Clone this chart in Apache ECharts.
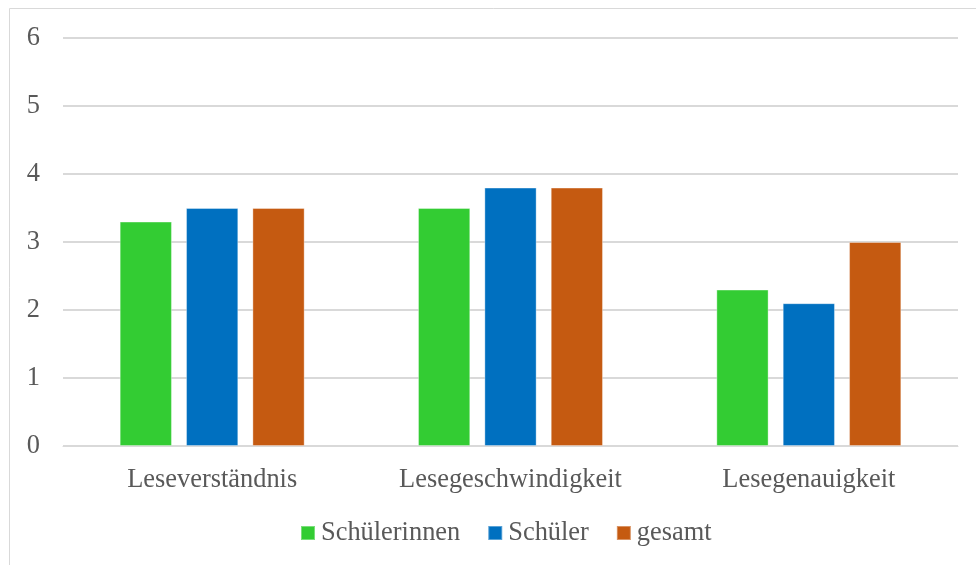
<!DOCTYPE html>
<html>
<head>
<meta charset="utf-8">
<script src="https://cdn.jsdelivr.net/npm/echarts@6/dist/echarts.min.js"></script>
<style>
  html, body { margin: 0; padding: 0; background: #fff; }
  #chart { width: 976px; height: 565px; }
</style>
</head>
<body>
<div id="chart"></div>
<script>
// Reading results by skill area
const categories = ['Leseverständnis', 'Lesegeschwindigkeit', 'Lesegenauigkeit'];
const schuelerinnen = [3.3, 3.5, 2.3];
const schueler = [3.5, 3.8, 2.1];
const gesamt = [3.5, 3.8, 3.0];
const seriesNames = ['Schülerinnen', 'Schüler', 'gesamt'];
const colors = ['#33cc33', '#0070c0', '#c55a11'];

const font = '"Liberation Serif", "Times New Roman", serif';
const textColor = '#595959';

const chart = echarts.init(document.getElementById('chart'), null, { renderer: 'canvas' });

const barStyle = (c) => ({
  color: c,
  borderColor: 'rgba(255,255,255,0.35)',
  borderWidth: 1
});

chart.setOption({
  animation: false,
  backgroundColor: '#fff',
  color: colors,
  graphic: [{
    type: 'rect',
    shape: { x: 9.5, y: 8.5, width: 990, height: 600 },
    style: { fill: 'none', stroke: '#d9d9d9', lineWidth: 1 },
    silent: true
  }],
  grid: { left: 63, right: 18, top: 38, bottom: 119, containLabel: false },
  legend: {
    data: seriesNames,
    bottom: 14,
    left: 295,
    itemWidth: 14,
    itemHeight: 14,
    itemGap: 27,
    icon: 'rect',
    textStyle: { fontFamily: font, fontSize: 26.4, color: textColor, padding: [0, 0, 0, 1] }
  },
  xAxis: {
    type: 'category',
    data: categories,
    axisLine: { lineStyle: { color: '#d9d9d9', width: 1 } },
    axisTick: { show: false },
    axisLabel: { fontFamily: font, fontSize: 26.4, color: textColor, margin: 21 }
  },
  yAxis: {
    type: 'value',
    min: 0,
    max: 6,
    interval: 1,
    axisLine: { show: false },
    axisTick: { show: false },
    splitLine: { lineStyle: { color: '#d9d9d9', width: 2 } },
    axisLabel: { fontFamily: font, fontSize: 26.4, color: textColor, margin: 23 }
  },
  series: [
    { name: seriesNames[0], type: 'bar', data: schuelerinnen, barGap: '27%', barCategoryGap: '38%', itemStyle: barStyle(colors[0]) },
    { name: seriesNames[1], type: 'bar', data: schueler, barGap: '27%', barCategoryGap: '38%', itemStyle: barStyle(colors[1]) },
    { name: seriesNames[2], type: 'bar', data: gesamt, barGap: '27%', barCategoryGap: '38%', itemStyle: barStyle(colors[2]) }
  ]
});
</script>
</body>
</html>
